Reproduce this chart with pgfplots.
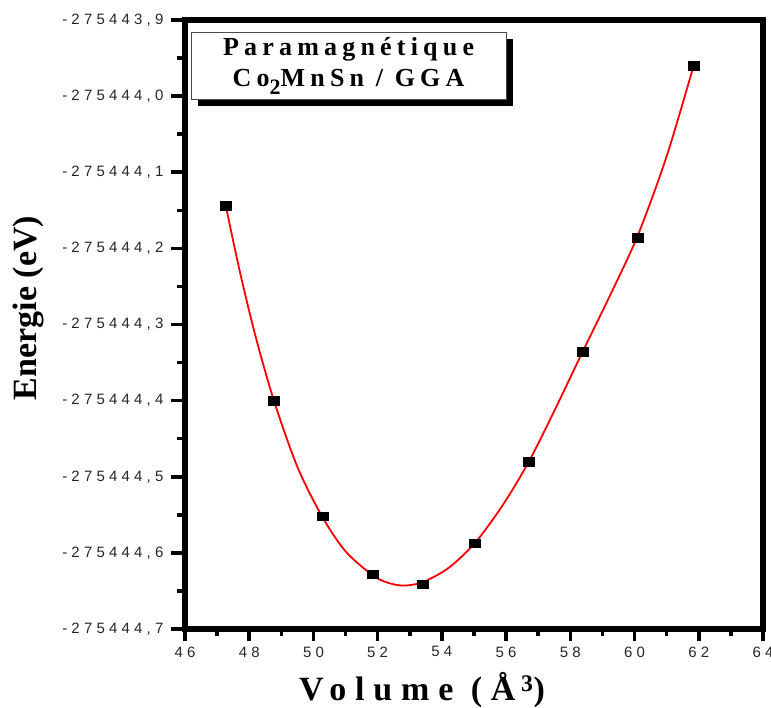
\documentclass[border=0pt]{standalone}
\usepackage{fontspec}
\usepackage{pgfplots}
\pgfplotsset{compat=1.18}
\usetikzlibrary{shadows}
\setmainfont{Liberation Serif}
\newfontfamily\tickfont[LetterSpace=28]{Liberation Sans}
\newfontfamily\labfont[LetterSpace=26]{Liberation Serif}
\newfontfamily\boxfont[LetterSpace=20]{Liberation Serif}

% Energies are stored as E + 275444 (eV), i.e. offset from -275444 eV,
% because pgfplots' floating point cannot resolve 9 significant digits.
\pgfplotstableread{
V      dE
47.27  -0.144
48.77  -0.400
50.28  -0.552
51.83  -0.628
53.40  -0.641
55.03  -0.587
56.71  -0.480
58.38  -0.336
60.09  -0.186
61.84   0.040
}\points
\pgfplotstableread{
V      dE
47.27  -0.144
47.70  -0.229
48.20  -0.316
48.77  -0.400
49.50  -0.487
50.28  -0.553
51.00  -0.598
51.83  -0.629
52.30  -0.639
52.80  -0.643
53.40  -0.6385
54.20  -0.620
55.03  -0.587
55.90  -0.537
56.71  -0.480
57.50  -0.4136
58.38  -0.336
59.20  -0.265
60.09  -0.184
61.00  -0.079
61.84   0.040
}\fit

\begin{document}
\begin{tikzpicture}
\path[use as bounding box] (-185pt,-79pt) rectangle (586pt,629pt);
\begin{axis}[
  at={(0pt,0pt)}, anchor=south west,
  width=578pt, height=609pt, scale only axis,
  xmin=46, xmax=64, ymin=-0.7, ymax=0.1,
  xtick={46,48,50,52,54,56,58,60,62,64},
  xticklabels={46,48,50,52,54,56,58,60,62,64},
  ytick={-0.7,-0.6,-0.5,-0.4,-0.3,-0.2,-0.1,0,0.1},
  yticklabels={{-275444,7},{-275444,6},{-275444,5},{-275444,4},{-275444,3},{-275444,2},{-275444,1},{-275444,0},{-275443,9}},
  xtick pos=bottom, ytick pos=left,
  tick align=outside,
  major tick length=13pt,
  tick style={draw=none},
  tick label style={font=\tickfont\fontsize{15}{17}\selectfont, text=black!85},
  yticklabel style={xshift=-5pt},
  xticklabel style={yshift=-1pt},
  xlabel={\labfont\bfseries Volume (Å\,\textsuperscript{3})},
  xlabel style={at={(axis description cs:0.41,0)}, anchor=center, yshift=-61pt, font=\fontsize{34}{36}\selectfont},
  ylabel={Energie (eV)},
  ylabel style={at={(axis description cs:-0.27,0.527)}, anchor=center, font=\bfseries\fontsize{34}{36}\selectfont},
  clip=false,
]
\addplot[red, line width=1.8pt, smooth, no markers] table[x=V, y=dE] {\fit};
\addplot[only marks, mark=square*, mark size=5pt, mark options={fill=black, draw=black, line width=0.4pt, xscale=1.1, yscale=0.85}] table[x=V, y=dE] {\points};
% thick frame (filled band)
\fill[black, even odd rule]
  ([shift={(-2.8pt,-2.8pt)}]rel axis cs:0,0) rectangle ([shift={(2.8pt,2.8pt)}]rel axis cs:1,1)
  ([shift={(2.8pt,2.8pt)}]rel axis cs:0,0) rectangle ([shift={(-2.8pt,-2.8pt)}]rel axis cs:1,1);
% ticks (filled)
\pgfplotsinvokeforeach{-0.7,-0.6,-0.5,-0.4,-0.3,-0.2,-0.1,0,0.1}{
  \fill[black] ([yshift=-1.8pt]axis cs:46,#1) rectangle ([xshift=-14pt,yshift=1.8pt]axis cs:46,#1);}
\pgfplotsinvokeforeach{-0.65,-0.55,-0.45,-0.35,-0.25,-0.15,-0.05,0.05}{
  \fill[black] ([yshift=-1.8pt]axis cs:46,#1) rectangle ([xshift=-8pt,yshift=1.8pt]axis cs:46,#1);}
\pgfplotsinvokeforeach{46,48,50,52,54,56,58,60,62,64}{
  \fill[black] ([xshift=-1.8pt]axis cs:#1,-0.7) rectangle ([xshift=1.8pt,yshift=-12pt]axis cs:#1,-0.7);}
\pgfplotsinvokeforeach{47,49,51,53,55,57,59,61,63}{
  \fill[black] ([xshift=-1.8pt]axis cs:#1,-0.7) rectangle ([xshift=1.8pt,yshift=-7pt]axis cs:#1,-0.7);}
\node[draw=gray!60!black, line width=0.8pt, fill=white, minimum width=315pt, minimum height=67pt, align=center,
  drop shadow={shadow xshift=7pt, shadow yshift=-7pt, fill=black, opacity=1},
  font=\boxfont\bfseries\fontsize{26}{31}\selectfont]
  at (axis description cs:0.283,0.9245)
  {Paramagnétique\\Co\raisebox{-0.3em}{\fontsize{22}{22}\selectfont 2}MnSn / GGA};
\end{axis}
\end{tikzpicture}
\end{document}
